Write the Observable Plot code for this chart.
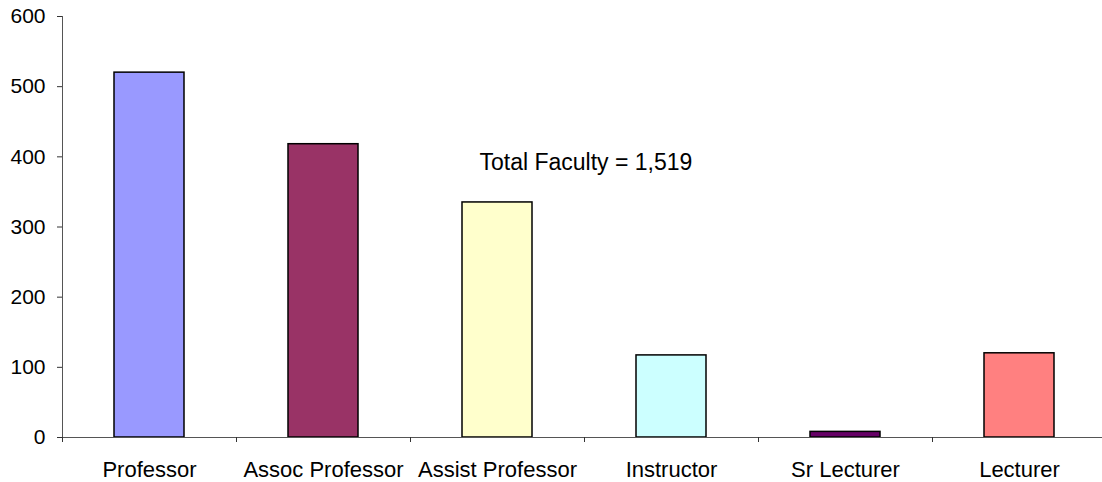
<!DOCTYPE html>
<html>
<head>
<meta charset="utf-8">
<script src="https://cdn.jsdelivr.net/npm/d3@7"></script>
<script src="https://cdn.jsdelivr.net/npm/@observablehq/plot@0.6"></script>
<style>
  html, body { margin: 0; padding: 0; background: #fff; }
  #chart svg { display: block; }
</style>
</head>
<body>
<div id="chart"></div>
<script>
const categories = ["Professor", "Assoc Professor", "Assist Professor", "Instructor", "Sr Lecturer", "Lecturer"];
const counts = [520, 418, 335, 117, 8, 120];
const colors = ["#9999FF", "#993366", "#FFFFCC", "#CCFFFF", "#660066", "#FF8080"];
const yTicks = [0, 100, 200, 300, 400, 500, 600];
const annotation = "Total Faculty = 1,519";

const data = categories.map((c, i) => ({category: c, count: counts[i], color: colors[i]}));

const W = 1102, H = 482, mL = 62, mR = 0, mT = 16, mB = 45;
const step = 174;
const xRange = [mL, mL + step * categories.length];

const chart = Plot.plot({
  width: W,
  height: H,
  marginLeft: mL,
  marginRight: mR,
  marginTop: mT,
  marginBottom: mB,
  style: {fontFamily: "'Liberation Sans', Arial, sans-serif", fontSize: "22px", color: "#000", background: "#fff"},
  x: {domain: categories, range: xRange, paddingInner: 0.595, paddingOuter: 0.2975},
  y: {domain: [0, 600]},
  marks: [
    Plot.barY(data, {x: "category", y: "count", fill: "color", stroke: "#000", strokeWidth: 1.5}),
    Plot.ruleY([0], {stroke: "#555", strokeWidth: 1}),
    Plot.frame({anchor: "left", stroke: "#555", strokeWidth: 1}),
    Plot.ruleX(categories, {x: d => d, y1: 0, y2: 0, insetBottom: -5, dx: -step / 2, stroke: "#333", strokeWidth: 1}),
    Plot.axisY({ticks: yTicks, tickSize: 5, tickPadding: 12, tickFormat: d => String(d), label: null, fontSize: 21, stroke: "#333"}),
    Plot.axisX({tickSize: 0, tickPadding: 24, label: null, fontSize: 22}),
    Plot.text([annotation], {x: () => "Assist Professor", y: () => 392, text: d => d, textAnchor: "start", dx: -18, fontSize: 23, fill: "#000"})
  ]
});
document.getElementById("chart").appendChild(chart);
</script>
</body>
</html>
